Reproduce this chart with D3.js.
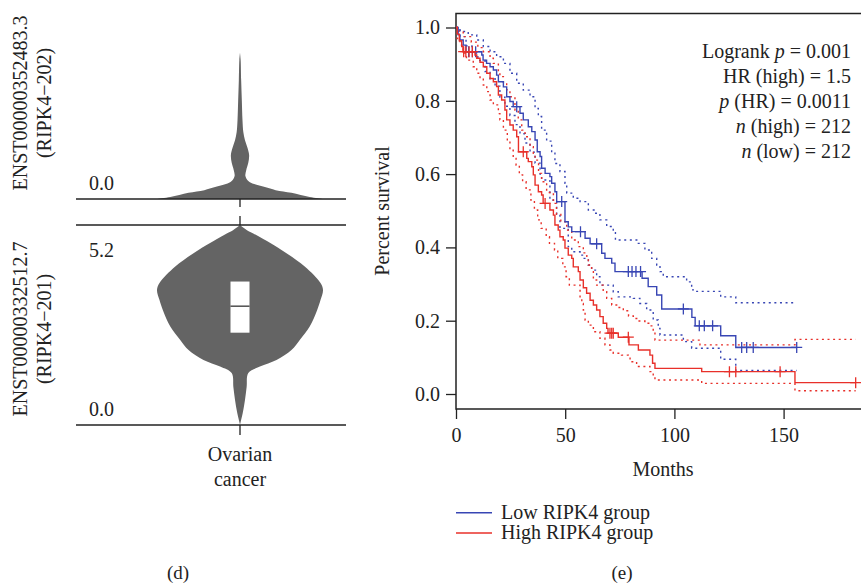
<!DOCTYPE html>
<html lang="en">
<head>
    <meta charset="UTF-8">
    <title>RIPK4 isoform / survival</title>
    <script src="https://d3js.org/d3.v7.min.js"></script>
    <style>
        body { margin: 0; background: #fff; }
        svg text { font-family: "Liberation Serif", "DejaVu Serif", serif; fill: #222; }
        .axis path { display: none; }
        .axis line { stroke: #222; stroke-width: 1.3; }
        .axis text { font-size: 20px; }
    </style>
</head>
<body>
<script>
    // ---- violin data (expression value, relative density) ----
    const isoTop = [[0, 1], [0.05, 0.84], [0.16, 0.62], [0.23, 0.43], [0.31, 0.3], [0.39, 0.17], [0.47, 0.1],
        [0.6, 0.065], [0.75, 0.075], [0.94, 0.1], [1.14, 0.11], [1.33, 0.09], [1.53, 0.06], [1.74, 0.04],
        [2.05, 0.03], [2.57, 0.022], [3.09, 0.014], [3.61, 0.008], [3.8, 0]]
    const isoBottom = [[0, 0], [0.05, 0.005], [0.31, 0.033], [0.65, 0.06], [0.99, 0.08], [1.35, 0.1], [1.52, 0.24],
        [1.69, 0.44], [1.95, 0.62], [2.21, 0.72], [2.56, 0.84], [2.99, 0.93], [3.25, 0.97], [3.51, 1],
        [3.69, 0.97], [4.12, 0.78], [4.55, 0.5], [4.98, 0.16], [5.07, 0.08], [5.2, 0]]
    const boxBottom = {q1: 2.40, median: 3.09, q3: 3.73}
    const isoLabels = [["ENST00000352483.3", "(RIPK4\u2212202)"], ["ENST00000332512.7", "(RIPK4\u2212201)"]]
    const isoMax = 5.2

    // ---- Kaplan-Meier data [months, survival] ----
    const lowSurv = [[0, 1], [1, 0.98], [1.8, 0.966], [3.3, 0.952], [4.6, 0.934], [11.8, 0.925], [12.4, 0.911],
        [14, 0.902], [15.6, 0.893], [17.1, 0.884], [18.6, 0.87], [19.4, 0.852], [21.7, 0.838], [23.2, 0.811],
        [24.7, 0.798], [26.2, 0.784], [29.3, 0.766], [30.8, 0.748], [33.1, 0.729], [34.7, 0.716], [36.2, 0.693],
        [37.2, 0.661], [38.5, 0.648], [39.2, 0.616], [40.8, 0.602], [43, 0.593], [43.8, 0.575], [45.3, 0.552],
        [46.1, 0.525], [49.9, 0.47], [51.4, 0.456], [53, 0.443], [59.1, 0.425], [61.4, 0.41], [66.7, 0.384],
        [68.2, 0.37], [71.3, 0.357], [72.8, 0.334], [85.2, 0.316], [88, 0.293], [91.9, 0.27], [94.2, 0.232],
        [108, 0.209], [109.5, 0.186], [121.2, 0.159], [128.1, 0.127], [156, 0.127]]
    const lowCensor = [5.8, 7.5, 9, 27.8, 48.4, 57, 64.4, 78.9, 80.6, 82.4, 84.5, 104.1, 111.4, 113.7, 117.5,
        130.8, 133.1, 136.1, 156]
    const lowUpper = [[0, 1], [1.8, 0.989], [5.6, 0.98], [9.5, 0.966], [12.5, 0.948], [15.6, 0.934], [18.6, 0.92],
        [21.7, 0.902], [24.7, 0.875], [27.8, 0.848], [30.8, 0.829], [33.9, 0.811], [36.2, 0.779], [37.7, 0.757],
        [39.2, 0.72], [41.5, 0.69], [43.8, 0.657], [45.3, 0.629], [47.6, 0.607], [49.9, 0.575], [50.7, 0.548],
        [53.7, 0.534], [56.8, 0.525], [60.6, 0.502], [63.6, 0.493], [65.9, 0.475], [69, 0.457], [72, 0.44],
        [73, 0.42], [83.5, 0.411], [86.5, 0.393], [89.6, 0.37], [91.9, 0.352], [93.4, 0.334], [94.9, 0.32],
        [105.6, 0.306], [107.9, 0.284], [109.4, 0.28], [121.2, 0.265], [128.1, 0.249], [156, 0.249]]
    const lowLower = [[0, 1], [1.8, 0.975], [4.6, 0.95], [7.3, 0.93], [10, 0.91], [13.3, 0.88], [15.6, 0.86],
        [17.9, 0.84], [20.1, 0.81], [22.4, 0.785], [24.7, 0.76], [27, 0.735], [29.3, 0.71], [31.6, 0.685],
        [33.9, 0.66], [36.2, 0.63], [38.5, 0.6], [39.2, 0.584], [43, 0.529], [46.1, 0.49], [47.6, 0.452],
        [51.4, 0.402], [53, 0.388], [56.8, 0.379], [58.3, 0.37], [60.6, 0.352], [62.1, 0.338], [64.4, 0.32],
        [65.9, 0.297], [72, 0.279], [74.3, 0.265], [81.2, 0.261], [84.2, 0.247], [87.3, 0.229], [90.3, 0.202],
        [92.6, 0.179], [93.4, 0.161], [104.1, 0.143], [107.9, 0.125], [121.2, 0.095], [128.1, 0.064], [156, 0.064]]

    const highSurv = [[0, 1], [0.6, 0.982], [1.5, 0.964], [2.6, 0.948], [3.2, 0.934], [8.7, 0.925], [9.5, 0.916],
        [11, 0.905], [12.5, 0.893], [14.1, 0.875], [15.6, 0.861], [17.1, 0.852], [18.6, 0.839], [19.4, 0.816],
        [20.9, 0.802], [22.4, 0.775], [23.2, 0.748], [24.7, 0.734], [26.2, 0.72], [27.8, 0.702], [28.6, 0.661],
        [32.4, 0.643], [33.1, 0.634], [34.7, 0.62], [35.4, 0.598], [36.2, 0.57], [37.7, 0.552], [39.2, 0.543],
        [39.9, 0.52], [43, 0.502], [44.6, 0.488], [45.3, 0.461], [46.8, 0.447], [47.6, 0.429], [49.1, 0.42],
        [49.9, 0.398], [51.4, 0.379], [53, 0.37], [53.7, 0.347], [56, 0.334], [56.8, 0.311], [58.3, 0.29],
        [59.8, 0.275], [61.4, 0.256], [62.9, 0.243], [64.4, 0.229], [65.9, 0.211], [67.4, 0.193], [69, 0.179],
        [69.6, 0.166], [74.3, 0.155], [79.2, 0.134], [83.5, 0.12], [88.8, 0.106], [90, 0.084], [91.1, 0.07],
        [112.5, 0.061], [155.2, 0.031], [183, 0.031]]
    const highCensor = [3.5, 4.5, 6, 7.5, 30.8, 40.8, 70.5, 71.3, 72, 78.9, 125.2, 128.1, 148.4, 183]
    const highUpper = [[0, 1], [1, 0.99], [3.3, 0.975], [7, 0.96], [10, 0.945], [12.5, 0.934], [15.6, 0.916],
        [17.1, 0.902], [19.4, 0.88], [20.1, 0.866], [21.7, 0.848], [23.2, 0.83], [24.7, 0.811], [27, 0.775],
        [28.5, 0.748], [30.1, 0.72], [31.6, 0.702], [33.9, 0.675], [35.4, 0.657], [36.2, 0.638], [37.8, 0.602],
        [39.2, 0.579], [41.5, 0.55], [44.6, 0.52], [46, 0.49], [48, 0.47], [50.7, 0.447], [53, 0.42], [56, 0.402],
        [58.3, 0.385], [59.9, 0.37], [60.6, 0.352], [62.1, 0.334], [62.9, 0.311], [64.4, 0.297], [67.4, 0.279],
        [69, 0.261], [71.3, 0.243], [74.3, 0.236], [76.6, 0.227], [79, 0.213], [81.2, 0.206], [83.5, 0.199],
        [86.5, 0.193], [88.8, 0.186], [90.3, 0.17], [91.1, 0.147], [111.7, 0.134], [155.2, 0.149], [183, 0.149]]
    const highLower = [[0, 1], [0.6, 0.97], [1.8, 0.952], [3.3, 0.93], [4.8, 0.911], [7.9, 0.893], [9.5, 0.875],
        [11, 0.861], [12.5, 0.843], [14.1, 0.825], [15.6, 0.802], [17.1, 0.789], [19.4, 0.765], [20.1, 0.748],
        [21.7, 0.72], [23.5, 0.69], [24.7, 0.665], [26.2, 0.643], [27.5, 0.625], [29, 0.598], [30.5, 0.579],
        [32.1, 0.557], [34.3, 0.529], [35.9, 0.502], [37.4, 0.475], [39, 0.452], [41.3, 0.429], [42.8, 0.411],
        [45.1, 0.393], [46.6, 0.37], [48.9, 0.347], [50.4, 0.32], [51.9, 0.297], [56.8, 0.261], [57.6, 0.247],
        [58.3, 0.229], [59.1, 0.202], [60.6, 0.188], [62.9, 0.17], [65.9, 0.152], [68.2, 0.134], [70.5, 0.12],
        [72, 0.111], [75.8, 0.106], [78.9, 0.102], [79.7, 0.088], [82.7, 0.075], [88.8, 0.061], [90.3, 0.047],
        [91.1, 0.038], [112.5, 0.029], [155.2, 0.009], [183, 0.009]]

    const xTicks = [0, 50, 100, 150]
    const yTicks = [0, 0.2, 0.4, 0.6, 0.8, 1.0]
    const statLines = [["Logrank ", "p", " = 0.001"], ["HR (high) = 1.5", "", ""], ["", "p", " (HR) = 0.0011"],
        ["", "n", " (high) = 212"], ["", "n", " (low) = 212"]]
    const groups = ["Low RIPK4 group", "High RIPK4 group"]
    const colors = ["#3846b4", "#e8302a"]

    const width = 861
    const height = 584
    const fs = 20
    const svg = d3.select("body").append("svg")
        .attr("width", width)
        .attr("height", height)

    // ================= (d) violin panel =================
    const vx = 240
    const wScale = d3.scaleLinear().domain([0, 1]).range([0, 83])
    const yTop = d3.scaleLinear().domain([0, isoMax]).range([199, -1])
    const yBot = d3.scaleLinear().domain([0, isoMax]).range([425, 225])

    function violin(data, y) {
        return d3.area()
            .y(d => y(d[0]))
            .x0(d => vx - wScale(d[1]))
            .x1(d => vx + wScale(d[1]))
            .curve(d3.curveCatmullRom)(data)
    }
    svg.append("path").attr("d", violin(isoTop, yTop)).attr("fill", "#646464")
    svg.append("path").attr("d", violin(isoBottom, yBot)).attr("fill", "#646464")

    svg.append("rect")
        .attr("x", vx - 9.5).attr("width", 19)
        .attr("y", yBot(boxBottom.q3))
        .attr("height", yBot(boxBottom.q1) - yBot(boxBottom.q3))
        .attr("fill", "#fff")
    svg.append("line")
        .attr("x1", vx - 9.5).attr("x2", vx + 9.5)
        .attr("y1", yBot(boxBottom.median)).attr("y2", yBot(boxBottom.median))
        .attr("stroke", "#222").attr("stroke-width", 1.2)

    // panel rule lines
    const rules = [yTop(0), yBot(isoMax), yBot(0)]
    svg.selectAll(".rule").data(rules).enter().append("line")
        .attr("class", "rule")
        .attr("x1", 76).attr("x2", 346)
        .attr("y1", d => d).attr("y2", d => d)
        .attr("stroke", "#222").attr("stroke-width", 1.3)
    // small tick marks at the violin centre
    const vticks = [[yTop(0), yTop(0) + 8], [yBot(isoMax) - 9, yBot(isoMax)], [yBot(0), yBot(0) + 10]]
    svg.selectAll(".vtick").data(vticks).enter().append("line")
        .attr("x1", vx).attr("x2", vx)
        .attr("y1", d => d[0]).attr("y2", d => d[1])
        .attr("stroke", "#222").attr("stroke-width", 1.3)

    svg.append("text").text("0.0").attr("x", 89).attr("y", yTop(0) - 9).attr("font-size", fs)
    svg.append("text").text("5.2").attr("x", 89).attr("y", yBot(isoMax) + 32).attr("font-size", fs)
    svg.append("text").text("0.0").attr("x", 89).attr("y", yBot(0) - 9).attr("font-size", fs)

    const labelCy = [103, 329]
    isoLabels.forEach(function (lab, i) {
        lab.forEach(function (line, j) {
            svg.append("text")
                .text(line)
                .attr("font-size", fs)
                .attr("text-anchor", "middle")
                .attr("transform", "translate(" + (27 + j * 24) + "," + labelCy[i] + ") rotate(-90)")
        })
    })
    svg.append("text").text("Ovarian").attr("x", vx).attr("y", 461).attr("text-anchor", "middle").attr("font-size", fs)
    svg.append("text").text("cancer").attr("x", vx).attr("y", 486).attr("text-anchor", "middle").attr("font-size", fs)
    svg.append("text").text("(d)").attr("x", 178).attr("y", 579).attr("text-anchor", "middle").attr("font-size", 19)

    // ================= (e) Kaplan-Meier panel =================
    const xScale = d3.scaleLinear().domain([0, 190]).range([456, 456 + 190 * 2.184])
    const yScale = d3.scaleLinear().domain([0, 1]).range([394, 27.5])
    const plotTop = 13.5, plotBottom = 409

    svg.append("path")
        .attr("d", "M" + width + "," + plotTop + "H" + xScale(0) + "V" + plotBottom + "H" + width)
        .attr("fill", "none").attr("stroke", "#222").attr("stroke-width", 1.5)

    svg.append("g").attr("class", "axis")
        .attr("transform", "translate(" + xScale(0) + ",0)")
        .call(d3.axisLeft(yScale).tickValues(yTicks).tickFormat(d3.format(".1f")).tickSize(10).tickPadding(6))
    svg.append("g").attr("class", "axis")
        .attr("transform", "translate(0," + plotBottom + ")")
        .call(d3.axisBottom(xScale).tickValues(xTicks).tickSize(10).tickPadding(9))

    svg.append("text").text("Percent survival").attr("font-size", fs).attr("text-anchor", "middle")
        .attr("transform", "translate(389,211) rotate(-90)")
    svg.append("text").text("Months").attr("font-size", fs).attr("text-anchor", "middle")
        .attr("x", 663).attr("y", 476)

    svg.append("clipPath").attr("id", "plotclip").append("rect")
        .attr("x", xScale(0)).attr("y", plotTop).attr("width", width - xScale(0)).attr("height", plotBottom - plotTop)
    const plot = svg.append("g").attr("clip-path", "url(#plotclip)")

    const step = d3.line().x(d => xScale(d[0])).y(d => yScale(d[1])).curve(d3.curveStepAfter)
    function survAt(data, t) {
        let s = 1
        data.forEach(function (d) { if (d[0] <= t) s = d[1] })
        return s
    }

    const series = [
        {surv: lowSurv, up: lowUpper, lo: lowLower, cens: lowCensor, color: colors[0]},
        {surv: highSurv, up: highUpper, lo: highLower, cens: highCensor, color: colors[1]}
    ]
    series.forEach(function (s) {
        [s.up, s.lo].forEach(function (ci) {
            plot.append("path").attr("d", step(ci))
                .attr("fill", "none").attr("stroke", s.color).attr("stroke-width", 1.4)
                .attr("stroke-dasharray", "2,3.6")
        })
    })
    series.forEach(function (s) {
        plot.append("path").attr("d", step(s.surv))
            .attr("fill", "none").attr("stroke", s.color).attr("stroke-width", 1.4)
        plot.selectAll(null).data(s.cens).enter().append("path")
            .attr("d", function (t) {
                const cx = xScale(t), cy = yScale(survAt(s.surv, t))
                return "M" + (cx - 5.5) + "," + cy + "H" + (cx + 5.5) + "M" + cx + "," + (cy - 5.5) + "V" + (cy + 5.5)
            })
            .attr("stroke", s.color).attr("stroke-width", 1.3).attr("fill", "none")
    })

    // statistics text
    statLines.forEach(function (parts, i) {
        const t = svg.append("text").attr("x", 851).attr("y", 58 + i * 25)
            .attr("text-anchor", "end").attr("font-size", fs)
        t.append("tspan").text(parts[0])
        if (parts[1]) t.append("tspan").text(parts[1]).attr("font-style", "italic")
        if (parts[2]) t.append("tspan").text(parts[2])
    })

    // legend
    groups.forEach(function (g, i) {
        const ly = 512.7 + i * 20.3
        svg.append("line").attr("x1", 456).attr("x2", 492).attr("y1", ly).attr("y2", ly)
            .attr("stroke", colors[i]).attr("stroke-width", 1.4)
        svg.append("text").text(g).attr("x", 501).attr("y", ly + 6).attr("font-size", fs)
    })
    svg.append("text").text("(e)").attr("x", 622).attr("y", 579).attr("text-anchor", "middle").attr("font-size", 19)
</script>
</body>
</html>
